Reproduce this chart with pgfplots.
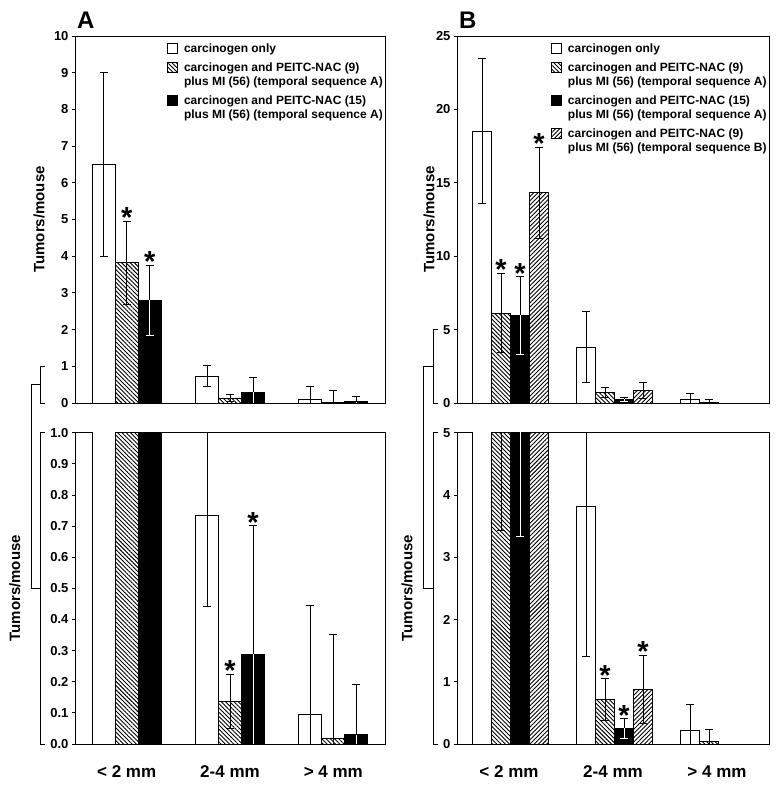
\documentclass[border=0pt]{standalone}
\usepackage{fontspec}
\setmainfont{Liberation Sans}
\usepackage{pgfplots}
\pgfplotsset{compat=1.18}
\usetikzlibrary{patterns.meta}

\tikzset{
  hatchA/.style={pattern={Lines[angle=-45,distance=3pt,line width=0.9pt]}},
  hatchB/.style={pattern={Lines[angle=45,distance=3pt,line width=0.9pt]}},
}
\pgfplotsset{
  lgbox/.style={legend image code/.code={\draw[##1,/tikz/.cd,draw=black,line width=0.8pt] (0pt,-1pt) rectangle (10pt,9pt);}},
  base/.style={
    scale only axis,
    xmin=0.5, xmax=3.5, ymin=0,
    axis line style={line width=0.8pt},
    tick align=outside, ytick pos=left,
    major tick length=3pt,
    tick style={line width=0.8pt, black},
    xtick style={draw=none},
    every tick label/.append style={font=\bfseries\fontsize{13}{15}\selectfont},
    /pgf/number format/assume math mode=true,
    ylabel={Tumors/mouse},
    ylabel style={font=\bfseries\fontsize{15}{18}\selectfont, anchor=center},
    error bars/error bar style={line width=0.8pt},
    error bars/error mark options={rotate=90, mark size=4pt, line width=0.8pt},
    legend style={draw=none, fill=none, anchor=north west,
      font=\bfseries\fontsize{12}{14}\selectfont,
      cells={anchor=base west}, nodes={inner sep=0pt, text depth={}},
      row sep=5pt, column sep=6pt, inner xsep=0pt, inner ysep=0pt},
    title style={font=\bfseries\fontsize{24}{24}\selectfont, at={(rel axis cs:0,1)}, anchor=base west, xshift=2pt, yshift=1pt, inner sep=0pt},
  },
  bwhite/.style={ybar, lgbox, bar width=#1, bar shift=0pt, fill=white, draw=black, line width=0.8pt,
    error bars/y dir=both, error bars/y explicit},
  bhatchA/.style={ybar, lgbox, bar width=#1, bar shift=0pt, hatchA, draw=black, line width=0.8pt,
    error bars/y dir=both, error bars/y explicit},
  bhatchB/.style={ybar, lgbox, bar width=#1, bar shift=0pt, hatchB, draw=black, line width=0.8pt,
    error bars/y dir=both, error bars/y explicit},
  bblack/.style={ybar, lgbox, bar width=#1, bar shift=0pt, fill=black, draw=black, line width=0.8pt,
    error bars/y dir=plus, error bars/y explicit},
  starA/.style={ybar, bar width=10pt, bar shift=0pt, draw=none, fill=none, forget plot,
    nodes near coords={*},
    every node near coord/.style={font=\bfseries\fontsize{29}{29}\selectfont, anchor=south, inner sep=0pt, yshift=-6.5pt}},
  whiteerr/.style={ybar, bar width=10pt, bar shift=0pt, draw=none, fill=none, forget plot,
    error bars/y dir=minus, error bars/y explicit,
    error bars/error bar style={draw=white, line width=0.8pt},
    error bars/error mark options={draw=white, rotate=90, mark size=4pt, line width=0.8pt}},
}

% Panel A data (x = category position; offsets of one bar width = 0.2226)
\def\AWhite{(0.7774,6.5) +- (0,2.5) (1.7774,0.733) +- (0,0.29) (2.7774,0.096) +- (0,0.35)}
\def\AHatch{(1,3.82) +- (0,1.13) (2,0.137) +- (0,0.088) (3,0.019) +- (0,0.333)}
\def\ABlack{(1.2226,2.80) +- (0,0.95) (2.2226,0.288) +- (0,0.413) (3.2226,0.030) +- (0,0.162)}
% Panel B data
\def\BWhite{(0.7404,18.53) +- (0,4.95) (1.7404,3.82) +- (0,2.42) (2.7404,0.214) +- (0,0.42)}
\def\BHatchA{(0.9231,6.13) +- (0,2.70) (1.9231,0.717) +- (0,0.33) (2.9231,0.043) +- (0,0.19)}
\def\BBlack{(1.1058,5.97) +- (0,2.63) (2.1058,0.25) +- (0,0.155)}
\def\BHatchB{(1.2885,14.33) +- (0,3.1) (2.2885,0.878) +- (0,0.55)}

\begin{document}
\begin{tikzpicture}
\useasboundingbox (0,0) rectangle (779pt,786pt);

% ---------- A top ----------
\begin{axis}[base, at={(75pt,383pt)}, anchor=south west, width=310pt, height=367pt,
  ymax=10, ytick={0,1,2,3,4,5,6,7,8,9,10}, xtick=\empty,
  ylabel style={at={(axis description cs:-0.116,0.5)}},
  title={A},
  legend style={at={(rel axis cs:0.297,0.982)}}]
\addplot[bwhite=23pt] coordinates {\AWhite};
\addlegendentry{\begin{tabular}[t]{@{}l@{}}carcinogen only\end{tabular}}
\addplot[bhatchA=23pt] coordinates {\AHatch};
\addlegendentry{\begin{tabular}[t]{@{}l@{}}carcinogen and PEITC-NAC (9)\\plus MI (56) (temporal sequence A)\end{tabular}}
\addplot[bblack=23pt] coordinates {\ABlack};
\addlegendentry{\begin{tabular}[t]{@{}l@{}}carcinogen and PEITC-NAC (15)\\plus MI (56) (temporal sequence A)\end{tabular}}
\addplot[whiteerr] coordinates {\ABlack};
\addplot[starA] coordinates {(1,4.95) (1.2226,3.75)};
\end{axis}

% ---------- A bottom ----------
\begin{axis}[base, at={(75pt,42pt)}, anchor=south west, width=310pt, height=311.3pt,
  ymax=1, ytick={0,0.1,0.2,0.3,0.4,0.5,0.6,0.7,0.8,0.9,1},
  yticklabel style={/pgf/number format/.cd, fixed, fixed zerofill, precision=1},
  xtick={1,2,3}, xticklabels={{< 2 mm},{2-4 mm},{> 4 mm}},
  xticklabel style={font=\bfseries\fontsize{17}{20}\selectfont, yshift=-15pt},
  ylabel style={at={(axis description cs:-0.194,0.5)}}]
\addplot[bwhite=23pt] coordinates {\AWhite};
\addplot[bhatchA=23pt] coordinates {\AHatch};
\addplot[bblack=23pt] coordinates {\ABlack};
\addplot[whiteerr] coordinates {\ABlack};
\addplot[starA] coordinates {(2,0.225) (2.2226,0.701)};
\end{axis}

% ---------- B top ----------
\begin{axis}[base, at={(457pt,383pt)}, anchor=south west, width=312pt, height=367pt,
  ymax=25, ytick={0,5,10,15,20,25}, xtick=\empty,
  ylabel style={at={(axis description cs:-0.0897,0.5)}},
  title={B},
  legend style={at={(rel axis cs:0.301,0.982)}}]
\addplot[bwhite=19pt] coordinates {\BWhite};
\addlegendentry{\begin{tabular}[t]{@{}l@{}}carcinogen only\end{tabular}}
\addplot[bhatchA=19pt] coordinates {\BHatchA};
\addlegendentry{\begin{tabular}[t]{@{}l@{}}carcinogen and PEITC-NAC (9)\\plus MI (56) (temporal sequence A)\end{tabular}}
\addplot[bblack=19pt] coordinates {\BBlack};
\addlegendentry{\begin{tabular}[t]{@{}l@{}}carcinogen and PEITC-NAC (15)\\plus MI (56) (temporal sequence A)\end{tabular}}
\addplot[whiteerr] coordinates {\BBlack};
\addplot[bhatchB=19pt] coordinates {\BHatchB};
\addlegendentry{\begin{tabular}[t]{@{}l@{}}carcinogen and PEITC-NAC (9)\\plus MI (56) (temporal sequence B)\end{tabular}}
\addplot[starA] coordinates {(0.9231,8.83) (1.1058,8.6) (1.2885,17.43)};
\end{axis}

% ---------- B bottom ----------
\begin{axis}[base, at={(457pt,42pt)}, anchor=south west, width=312pt, height=311.3pt,
  ymax=5, ytick={0,1,2,3,4,5},
  xtick={1,2,3}, xticklabels={{< 2 mm},{2-4 mm},{> 4 mm}},
  xticklabel style={font=\bfseries\fontsize{17}{20}\selectfont, yshift=-15pt},
  ylabel style={at={(axis description cs:-0.160,0.5)}}]
\addplot[bwhite=19pt] coordinates {\BWhite};
\addplot[bhatchA=19pt] coordinates {\BHatchA};
\addplot[bblack=19pt] coordinates {\BBlack};
\addplot[whiteerr] coordinates {\BBlack};
\addplot[bhatchB=19pt] coordinates {\BHatchB};
\addplot[starA] coordinates {(1.9231,1.047) (2.1058,0.405) (2.2885,1.428)};
\end{axis}

% ---------- zoom brackets ----------
\begin{scope}[line width=0.8pt]
\draw (45pt,419.7pt) -- (40pt,419.7pt) -- (40pt,383pt) -- (45pt,383pt);
\draw (40pt,401.35pt) -- (31pt,401.35pt) -- (31pt,198pt) -- (40pt,198pt);
\draw (45pt,353.3pt) -- (40pt,353.3pt) -- (40pt,42pt) -- (45pt,42pt);
\draw (438pt,456.4pt) -- (433pt,456.4pt) -- (433pt,383pt) -- (438pt,383pt);
\draw (433pt,419.7pt) -- (423pt,419.7pt) -- (423pt,198pt) -- (433pt,198pt);
\draw (438pt,353.3pt) -- (433pt,353.3pt) -- (433pt,42pt) -- (438pt,42pt);
\end{scope}
\end{tikzpicture}
\end{document}
